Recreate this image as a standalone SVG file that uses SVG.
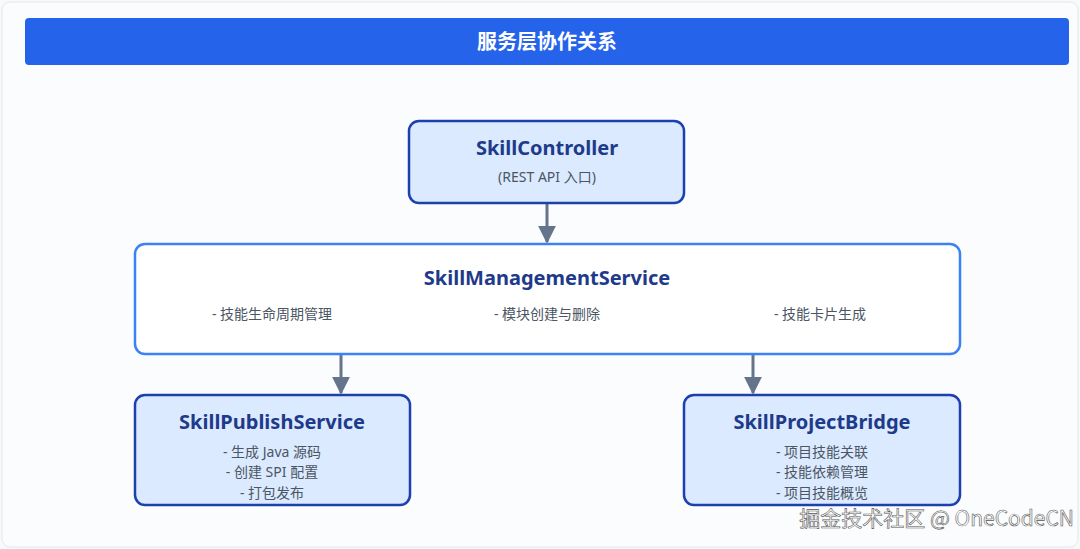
<svg xmlns="http://www.w3.org/2000/svg" width="1080" height="549" viewBox="0 0 1080 549">
<defs>
<style>
.t{font-family:"Noto Sans","Noto Sans CJK SC",sans-serif;font-weight:700;font-size:20px;fill:#1e3a8a;text-anchor:middle}
.s{font-family:"Noto Sans","Noto Sans CJK SC",sans-serif;font-size:14px;fill:#4b5563;text-anchor:middle}
.blue{fill:#dbeafe;stroke:#1e40af;stroke-width:2.5}
.white{fill:#ffffff;stroke:#3b82f6;stroke-width:2.5}
.c{stroke:#64748b;stroke-width:3;fill:none}
</style>
<marker id="a" viewBox="0 0 10 10" refX="9" refY="5" markerWidth="6" markerHeight="6" markerUnits="strokeWidth" orient="auto"><path d="M0,0L10,5L0,10z" fill="#64748b"/></marker>
</defs>
<rect width="1080" height="549" fill="#f8f9fb"/>
<rect x="2" y="2" width="1076" height="545" rx="8" fill="#fbfcfd" stroke="#e5e7eb"/>
<g id="title">
<rect x="25" y="18" width="1044" height="47" rx="4" fill="#2563eb"/>
<text x="547" y="49" font-family="Noto Sans CJK SC,sans-serif" font-weight="700" font-size="20" fill="#fff" text-anchor="middle">服务层协作关系</text>
</g>
<g id="connectors">
<line class="c" x1="547" y1="204" x2="547" y2="242" marker-end="url(#a)"/>
<line class="c" x1="341" y1="355" x2="341" y2="393" marker-end="url(#a)"/>
<line class="c" x1="753" y1="355" x2="753" y2="393" marker-end="url(#a)"/>
</g>
<g id="controller">
<rect class="blue" x="409" y="121" width="275" height="82" rx="10"/>
<text class="t" x="547" y="155">SkillController</text>
<text class="s" x="547" y="182">(REST API 入口)</text>
</g>
<g id="management">
<rect class="white" x="135" y="244" width="825" height="110" rx="10"/>
<text class="t" x="547" y="285">SkillManagementService</text>
<text class="s" x="272" y="319">- 技能生命周期管理</text>
<text class="s" x="547" y="319">- 模块创建与删除</text>
<text class="s" x="820" y="319">- 技能卡片生成</text>
</g>
<g id="publish">
<rect class="blue" x="135" y="395" width="275" height="110" rx="10"/>
<text class="t" x="272" y="429">SkillPublishService</text>
<text class="s" x="272" y="457">- 生成 Java 源码</text>
<text class="s" x="272" y="477">- 创建 SPI 配置</text>
<text class="s" x="272" y="498">- 打包发布</text>
</g>
<g id="bridge">
<rect class="blue" x="684" y="395" width="276" height="110" rx="10"/>
<text class="t" x="822" y="429">SkillProjectBridge</text>
<text class="s" x="822" y="457">- 项目技能关联</text>
<text class="s" x="822" y="477">- 技能依赖管理</text>
<text class="s" x="822" y="498">- 项目技能概览</text>
</g>
<text x="1074" y="526" font-family="Noto Sans CJK SC,sans-serif" font-size="21" fill="#ffffff" stroke="#555" stroke-width="0.6" text-anchor="end">掘金技术社区 @ OneCodeCN</text>
</svg>
